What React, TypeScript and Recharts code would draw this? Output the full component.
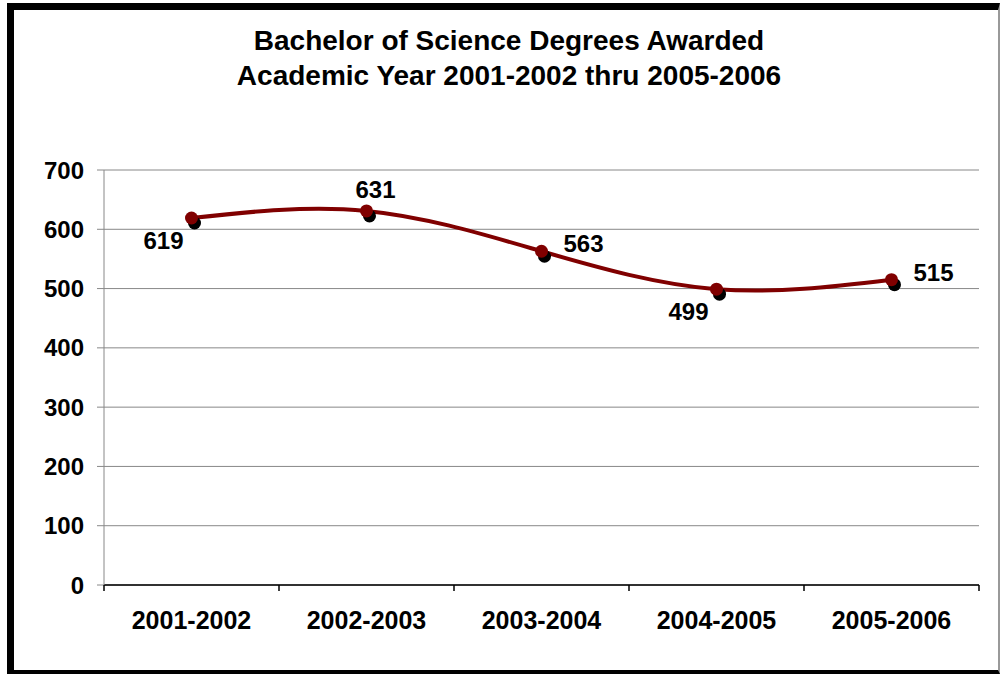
import React from "react";
import {
  LineChart,
  Line,
  XAxis,
  YAxis,
  CartesianGrid,
  LabelList,
} from "recharts";

const years = ["2001-2002", "2002-2003", "2003-2004", "2004-2005", "2005-2006"];
const degrees = [619, 631, 563, 499, 515];
const yTicks = [0, 100, 200, 300, 400, 500, 600, 700];

// where Excel put each data label relative to its point
const labelSpots = ["belowLeft", "above", "right", "belowLeft", "right"];

const data = years.map((year, i) => ({ year, value: degrees[i] }));

const FONT = "'Liberation Sans', Arial, sans-serif";
const RED = "#800000";

const ShadowDot = (props: any) => {
  const { cx, cy, index } = props;
  if (cx == null || cy == null) return null;
  return (
    <g key={`dot-${index}`}>
      <circle cx={cx + 3} cy={cy + 5} r={6.5} fill="#000" />
      <circle cx={cx} cy={cy} r={6.5} fill={RED} />
    </g>
  );
};

const PointLabel = (props: any) => {
  const { x, y, value, index } = props;
  const spot = labelSpots[index];
  let tx = x;
  let ty = y;
  let anchor: "start" | "middle" | "end" = "middle";
  if (spot === "belowLeft") {
    tx = x - 8;
    ty = y + 31;
    anchor = "end";
  } else if (spot === "above") {
    tx = x + 9;
    ty = y - 13;
  } else {
    tx = x + 22;
    ty = y + 1;
    anchor = "start";
  }
  return (
    <text
      x={tx}
      y={ty}
      textAnchor={anchor}
      fontFamily={FONT}
      fontWeight="bold"
      fontSize={24}
      fill="#000"
    >
      {value}
    </text>
  );
};

const YearTick = (props: any) => {
  const { x, y, payload, index, width, visibleTicksCount } = props;
  const band = width / visibleTicksCount;
  const left = x - band / 2;
  return (
    <g>
      <line x1={left} y1={y} x2={left} y2={y + 6} stroke="#000" strokeWidth={1.5} />
      {index === visibleTicksCount - 1 && (
        <line x1={left + band} y1={y} x2={left + band} y2={y + 6} stroke="#000" strokeWidth={1.5} />
      )}
      <text
        x={x}
        y={y + 44}
        textAnchor="middle"
        fontFamily={FONT}
        fontWeight="bold"
        fontSize={25}
        fill="#000"
      >
        {payload.value}
      </text>
    </g>
  );
};

export default function App() {
  return (
    <div
      style={{
        position: "absolute",
        left: 0,
        top: 0,
        width: 1000,
        height: 674,
        background: "#fff",
        overflow: "hidden",
      }}
    >
      <div
        style={{
          position: "absolute",
          left: 7,
          top: 3,
          width: 1000 - 7 - 7 - 2,
          height: 674 - 3 - 7 - 4,
          borderLeft: "7px solid #000",
          borderTop: "7px solid #000",
          borderBottom: "4px solid #000",
          borderRight: "2px solid #999",
        }}
      />
      <div
        style={{
          position: "absolute",
          left: 0,
          top: 23,
          width: 1018,
          textAlign: "center",
          fontFamily: FONT,
          fontWeight: "bold",
          fontSize: 28,
          lineHeight: "35px",
          color: "#000",
        }}
      >
        Bachelor of Science Degrees Awarded
        <br />
        Academic Year 2001-2002 thru 2005-2006
      </div>
      <div style={{ position: "absolute", left: 0, top: 0 }}>
        <LineChart
          width={1000}
          height={674}
          data={data}
          margin={{ top: 170, right: 21, bottom: 0, left: 0 }}
        >
          <CartesianGrid vertical={false} stroke="#888" strokeWidth={1} />
          <XAxis
            dataKey="year"
            scale="band"
            height={89}
            stroke="#000"
            strokeWidth={1.5}
            tickLine={false}
            tickSize={0}
            tickMargin={0}
            interval={0}
            tick={<YearTick />}
          />
          <YAxis
            width={104}
            domain={[0, 700]}
            ticks={yTicks}
            interval={0}
            stroke="#888"
            tickSize={7}
            tickMargin={13}
            tick={{
              fill: "#000",
              fontFamily: FONT,
              fontWeight: "bold",
              fontSize: 24,
            }}
          />
          <Line
            type="natural"
            dataKey="value"
            stroke={RED}
            strokeWidth={4}
            dot={<ShadowDot />}
            activeDot={false}
            isAnimationActive={false}
          >
            <LabelList dataKey="value" content={<PointLabel />} />
          </Line>
        </LineChart>
      </div>
    </div>
  );
}
